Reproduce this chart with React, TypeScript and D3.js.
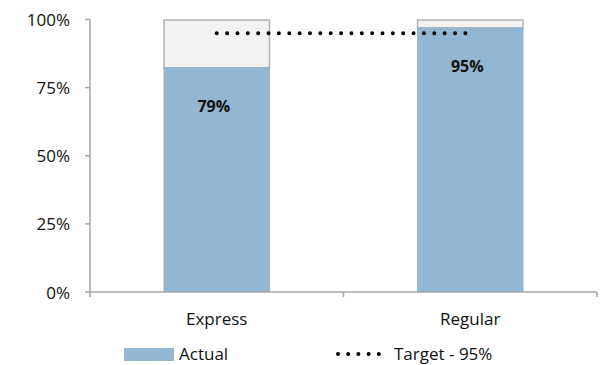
import React from "react";
import * as d3 from "d3";

const categories = ["Express", "Regular"];
const actualValues = [0.825, 0.971];
const dataLabels = ["79%", "95%"];
const targetValue = 0.95;
const yTicks = [0, 0.25, 0.5, 0.75, 1];
const legendLabels = ["Actual", "Target - 95%"];

const W = 611;
const H = 365;
const FONT = "'Open Sans', sans-serif";
const BLUE = "#93b6d2";
const REM_FILL = "#f2f2f2";
const REM_STROKE = "#b4b4b4";
const AXIS = "#a6a6a6";

export default function App() {
  const x = d3.scaleBand<string>().domain(categories).range([90, 597]).paddingInner(0.58).paddingOuter(0.29);
  const y = d3.scaleLinear().domain([0, 1]).range([292, 19.5]);
  const bw = x.bandwidth();
  const step = x.step();
  const centers = categories.map((c) => (x(c) as number) + bw / 2);
  const lineGen = d3.line<number>().x((d) => d).y(() => y(targetValue));

  return (
    <svg width={W} height={H} style={{ position: "absolute", left: 0, top: 0 }} fontFamily={FONT}>
      <rect width={W} height={H} fill="#fff" />
      {/* bars */}
      {categories.map((c, i) => {
        const x0 = x(c) as number;
        return (
          <g key={c}>
            <rect x={x0 + 0.5} y={y(1) + 0.5} width={bw - 1} height={y(actualValues[i]) - y(1)} fill={REM_FILL} stroke={REM_STROKE} strokeWidth={1.5} />
            <rect x={x0} y={y(actualValues[i])} width={bw} height={y(0) - y(actualValues[i])} fill={BLUE} />
            <text x={x0 + bw / 2 - 3} y={y(actualValues[i]) + 38.5} textAnchor="middle" dominantBaseline="central" fontSize={16} fontWeight="bold" fill="#111">
              {dataLabels[i]}
            </text>
          </g>
        );
      })}
      {/* target line */}
      <path d={lineGen([centers[0], centers[1] - 4]) || ""} fill="none" stroke="#000" strokeWidth={4} strokeLinecap="round" strokeDasharray="0 10.36" />
      {/* y axis */}
      <line x1={90} x2={90} y1={y(1)} y2={y(0)} stroke={AXIS} strokeWidth={1.5} />
      {yTicks.map((t) => (
        <g key={t}>
          <line x1={85} x2={90} y1={y(t)} y2={y(t)} stroke={AXIS} strokeWidth={1.5} />
          <text x={70} y={y(t)} textAnchor="end" dominantBaseline="central" fontSize={17} fill="#111">
            {d3.format(".0%")(t)}
          </text>
        </g>
      ))}
      {/* x axis */}
      <line x1={90} x2={597} y1={y(0)} y2={y(0)} stroke={AXIS} strokeWidth={1.5} />
      {[0, 1, 2].map((k) => (
        <line key={k} x1={90 + k * step} x2={90 + k * step} y1={y(0)} y2={y(0) + 5} stroke={AXIS} strokeWidth={1.5} />
      ))}
      {categories.map((c, i) => (
        <text key={c} x={centers[i]} y={325} textAnchor="middle" fontSize={17} fill="#111">
          {c}
        </text>
      ))}
      {/* legend */}
      <rect x={124} y={348} width={50} height={13} fill={BLUE} />
      <text x={179} y={360} fontSize={17} fill="#111">{legendLabels[0]}</text>
      <path d="M338,354 L380,354" stroke="#000" strokeWidth={4} strokeLinecap="round" strokeDasharray="0 10.2" />
      <text x={394} y={360} fontSize={17} fill="#111">{legendLabels[1]}</text>
    </svg>
  );
}
